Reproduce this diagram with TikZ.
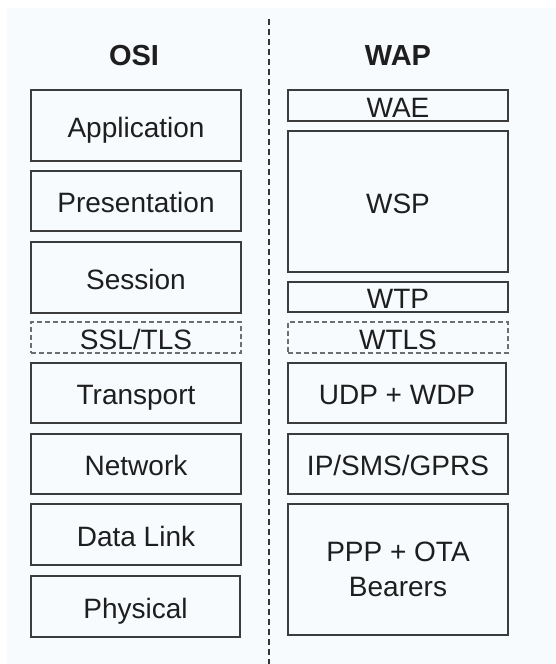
\documentclass[tikz,border=0pt]{standalone}
\usepackage{fontspec}
\setmainfont{Liberation Sans}
\definecolor{edge}{RGB}{60,60,60}
\definecolor{ink}{RGB}{30,30,30}
\definecolor{paper}{RGB}{247,251,253}
\definecolor{faint}{RGB}{110,110,110}
\begin{document}
\begin{tikzpicture}[x=1pt,y=-1pt,
  layerbase/.style={draw=edge,line width=1.6pt,rectangle,inner sep=0pt,
    text=ink,font=\fontsize{28}{35.5}\selectfont},
  layer/.style={layerbase,text height=23pt,text depth=0pt},
  optlayer/.style={layer,draw=faint,line width=1.1pt,dash pattern=on 5pt off 3pt},
  title/.style={text=ink,font=\fontsize{29}{34}\selectfont\bfseries,anchor=base},
  divider/.style={draw=ink!90,line width=1.8pt,dash pattern=on 6pt off 4pt}]
% canvas
\useasboundingbox (0,0) rectangle (556,664);
\fill[white] (0,0) rectangle (556,664);
\fill[paper] (7,8) rectangle (556,664);

% helper: box from corners (x1,y1)-(x2,y2)
\newcommand{\layerbox}[7][layer]{%
  \node[#1,minimum width={#4-#2},minimum height={#5-#3}] (#6)
    at ({(#2+#4)/2},{(#3+#5)/2}) {#7};}

% column titles
\node[title] (osi) at (134,65) {OSI};
\node[title] (wap) at (398,65) {WAP};

% OSI stack
\layerbox{31}{90}{241}{161}{app}{Application}
\layerbox{31}{171}{241}{231}{pres}{Presentation}
\layerbox{31}{242}{241}{313}{sess}{Session}
\layerbox[optlayer]{31}{322}{241}{353}{ssl}{SSL/TLS}
\layerbox{31}{363}{241}{423}{trans}{Transport}
\layerbox{31}{434}{241}{494}{net}{Network}
\layerbox{31}{504}{241}{565}{link}{Data Link}
\layerbox{31}{576}{240}{637}{phys}{Physical}

% WAP stack
\layerbox{288}{90}{508}{121}{wae}{WAE}
\layerbox{288}{131}{508}{272}{wsp}{WSP}
\layerbox{288}{282}{508}{312}{wtp}{WTP}
\layerbox[optlayer]{288}{322}{508}{353}{wtls}{WTLS}
\layerbox{288}{363}{506}{423}{wdp}{UDP + WDP}
\layerbox{288}{434}{508}{494}{ip}{IP/SMS/GPRS}
\layerbox[layerbase,align=center]{288}{504}{508}{635}{ppp}{PPP + OTA\\Bearers}

% separator between the two stacks
\coordinate (divtop) at (269,19);
\coordinate (divbot) at (269,664);
\draw[divider] (divtop) -- (divbot);
\end{tikzpicture}
\end{document}
